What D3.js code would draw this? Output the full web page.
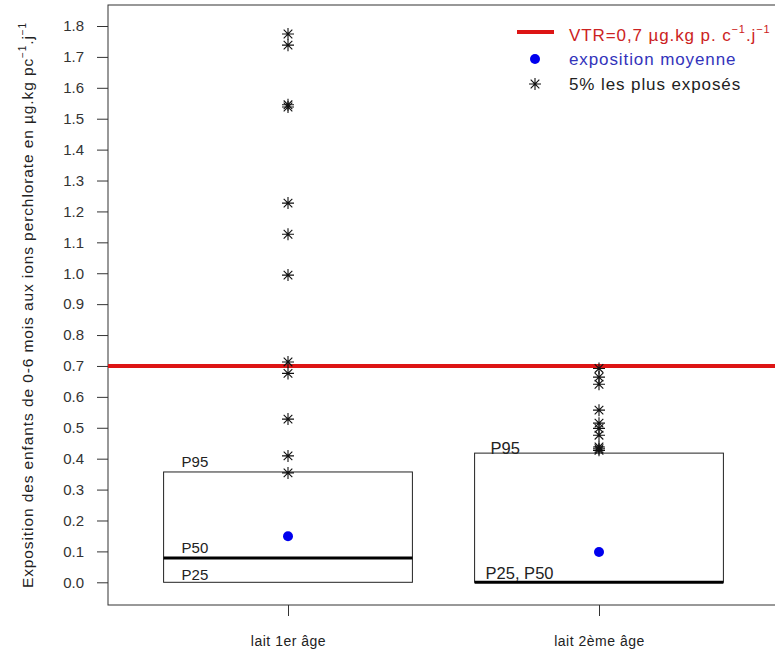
<!DOCTYPE html>
<meta charset="utf-8">
<script src="https://d3js.org/d3.v7.min.js"></script>
<style>
  body { margin: 0; background: #fff; }
  text { font-family: "Liberation Sans", Arial, sans-serif; }
</style>
<div id="chart"></div>
<script>
// data
var categories = ["lait 1er âge", "lait 2ème âge"];
var p25 = [0.0, 0.0];
var p50 = [0.079, 0.0];
var p95 = [0.357, 0.418];
var means = [0.149, 0.098];
var topExposed = [
  [1.774, 1.738, 1.545, 1.538, 1.227, 1.126, 0.994, 0.713, 0.676, 0.528, 0.409, 0.354],
  [0.692, 0.664, 0.641, 0.557, 0.515, 0.498, 0.476, 0.438, 0.427, 0.432]
];
var boxLabels = [["P95", "P50", "P25"], ["P95", "P25, P50"]];
var vtr = 0.7;
var yTicks = d3.range(0, 19).map(function(i) { return i / 10; });

var width = 775, height = 654;
var plot = {left: 108, right: 776, top: 5, bottom: 605};

var svg = d3.select("#chart").append("svg")
    .attr("width", width)
    .attr("height", height);

var y = d3.scaleLinear().domain([0, 1.8]).range([582.3, 26]);
var x = d3.scaleLinear().domain([0, 1]).range([288, 599]);

// frame
svg.append("rect")
    .attr("x", plot.left).attr("y", plot.top)
    .attr("width", plot.right - plot.left).attr("height", plot.bottom - plot.top)
    .attr("fill", "none").attr("stroke", "#333").attr("stroke-width", 1);

// y axis
var yAxis = svg.append("g")
    .attr("transform", "translate(" + plot.left + ",0)")
    .call(d3.axisLeft(y).tickValues(yTicks).tickFormat(d3.format(".1f")).tickSize(11).tickPadding(13));
yAxis.select(".domain").remove();
yAxis.selectAll("line").attr("stroke", "#333");
yAxis.selectAll("text").style("font-size", "15px").attr("fill", "#333")
    .style("font-family", "Liberation Sans, Arial, sans-serif");

// x axis
var xAxis = svg.append("g")
    .attr("transform", "translate(0," + plot.bottom + ")")
    .call(d3.axisBottom(x).tickValues([0, 1]).tickFormat(function(d) { return categories[d]; }).tickSize(11).tickPadding(20));
xAxis.select(".domain").remove();
xAxis.selectAll("line").attr("stroke", "#333");
xAxis.selectAll("text").style("font-size", "14px").attr("fill", "#222")
    .style("letter-spacing", "0.5px")
    .style("font-family", "Liberation Sans, Arial, sans-serif");

// y label
var ylab = svg.append("text")
    .attr("transform", "translate(33," + ((plot.top + plot.bottom) / 2) + ") rotate(-90)")
    .attr("text-anchor", "middle")
    .style("font-size", "15.5px")
    .style("letter-spacing", "0.9px")
    .attr("fill", "#222");
ylab.append("tspan").text("Exposition des enfants de 0-6 mois aux ions perchlorate en µg.kg pc");
ylab.append("tspan").attr("dy", -7).style("font-size", "10px").text("−1");
ylab.append("tspan").attr("dy", 7).text(".j");
ylab.append("tspan").attr("dy", -7).style("font-size", "10px").text("−1");

// boxes
var half = 0.4;
categories.forEach(function(c, i) {
  var x0 = x(i - half), x1 = x(i + half);
  svg.append("rect")
      .attr("x", x0).attr("y", y(p95[i]))
      .attr("width", x1 - x0).attr("height", y(p25[i]) - y(p95[i]))
      .attr("fill", "none").attr("stroke", "#222").attr("stroke-width", 1);
  svg.append("line")
      .attr("x1", x0).attr("x2", x1)
      .attr("y1", y(p50[i])).attr("y2", y(p50[i]))
      .attr("stroke", "#000").attr("stroke-width", 3);
});

function label(txt, xx, yy, fs) {
  svg.append("text").attr("x", xx).attr("y", yy)
      .style("font-size", fs + "px").attr("fill", "#222").text(txt);
}
label(boxLabels[0][0], x(0 - half) + 18, y(p95[0]) - 5, 15);
label(boxLabels[0][1], x(0 - half) + 18, y(p50[0]) - 5, 15);
label(boxLabels[0][2], x(0 - half) + 18, y(p25[0]) - 2, 15);
label(boxLabels[1][0], x(1 - half) + 16, y(p95[1]) + 0.5, 16.5);
label(boxLabels[1][1], x(1 - half) + 11, y(p25[1]) - 3, 16.5);

// VTR line
svg.append("line")
    .attr("x1", plot.left).attr("x2", width)
    .attr("y1", y(vtr)).attr("y2", y(vtr))
    .attr("stroke", "#dd1515").attr("stroke-width", 4);

// asterisk symbol like R pch=8
function star(g, cx, cy, r) {
  var d = "M" + (cx - r) + "," + cy + "H" + (cx + r) +
          "M" + cx + "," + (cy - r) + "V" + (cy + r);
  var k = r * 0.72;
  d += "M" + (cx - k) + "," + (cy - k) + "L" + (cx + k) + "," + (cy + k) +
       "M" + (cx - k) + "," + (cy + k) + "L" + (cx + k) + "," + (cy - k);
  g.append("path").attr("d", d).attr("stroke", "#111").attr("stroke-width", 1.1).attr("fill", "none");
}

topExposed.forEach(function(vals, i) {
  var g = svg.append("g");
  vals.forEach(function(v) { star(g, x(i), y(v), 6); });
});

svg.selectAll(".mean").data(means).enter().append("circle")
    .attr("class", "mean")
    .attr("cx", function(d, i) { return x(i); })
    .attr("cy", function(d) { return y(d); })
    .attr("r", 5)
    .attr("fill", "#0000ee");

// legend
var lg = svg.append("g").style("font-size", "17px").style("letter-spacing", "0.9px");
lg.append("line").attr("x1", 517).attr("x2", 554).attr("y1", 32).attr("y2", 32)
    .attr("stroke", "#dd1515").attr("stroke-width", 4);
var t1 = lg.append("text").attr("x", 569).attr("y", 41).attr("fill", "#cc2222");
t1.append("tspan").text("VTR=0,7 µg.kg p. c");
t1.append("tspan").attr("dy", -8).style("font-size", "11px").text("−1");
t1.append("tspan").attr("dy", 8).text(".j");
t1.append("tspan").attr("dy", -8).style("font-size", "11px").text("−1");
lg.append("circle").attr("cx", 535).attr("cy", 59).attr("r", 5).attr("fill", "#0000ee");
lg.append("text").attr("x", 569).attr("y", 65).attr("fill", "#3333bb").text("exposition moyenne");
star(lg, 535, 84, 6);
lg.append("text").attr("x", 569).attr("y", 90).attr("fill", "#222").text("5% les plus exposés");
</script>
